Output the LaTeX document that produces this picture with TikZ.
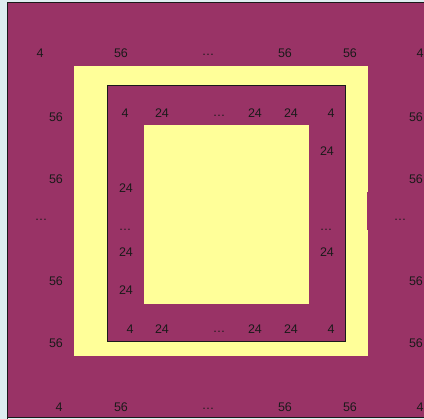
\documentclass[tikz,border=0pt]{standalone}
\usepackage{fontspec}
\setmainfont{Liberation Sans}
\definecolor{maroon}{HTML}{993366}
\definecolor{pale}{HTML}{FFFF99}
\definecolor{bg}{HTML}{DDEDF0}
\definecolor{ink}{HTML}{1A1A1A}
\begin{document}
\begin{tikzpicture}[x=1pt,y=-1pt,
  lbl/.style={inner sep=0pt,font=\fontsize{12.5}{14}\selectfont,text=ink},
  dots/.style={inner sep=0pt,font=\fontsize{12.5}{14}\selectfont,text=ink}]
\useasboundingbox (0,0) rectangle (424,419);
\fill[bg] (0,0) rectangle (424,419);
% outer maroon field
\fill[maroon] (8,3) rectangle (424,418);
\draw[ink,line width=1.2pt] (7.6,419) -- (7.6,2.6) -- (424,2.6);
\draw[ink,line width=1.2pt] (7.6,417.6) -- (424,417.6);
% outer yellow frame
\fill[pale] (74,66) rectangle (368,356);
\fill[maroon] (367,192) rectangle (368.5,230);
% inner bordered maroon block
\fill[maroon] (107,86) rectangle (345,342);
\draw[ink,line width=1pt] (107,86) rectangle (345,342);
% inner yellow
\fill[pale] (144,125) rectangle (309,304);
% outer top row
\node[lbl] (t1) at (40,53) {4};
\node[lbl] (t2) at (121,53) {56};
\node[dots] (t3) at (208,55) {\dots};
\node[lbl] (t4) at (285,53) {56};
\node[lbl] (t5) at (350,53) {56};
\node[lbl] (t6) at (420,53) {4};
% outer bottom row
\node[lbl] (b1) at (59,407) {4};
\node[lbl] (b2) at (121,407) {56};
\node[dots] (b3) at (208,409) {\dots};
\node[lbl] (b4) at (285,407) {56};
\node[lbl] (b5) at (350,407) {56};
\node[lbl] (b6) at (420,407) {4};
% outer left column
\node[lbl] (l1) at (56,117) {56};
\node[lbl] (l2) at (56,179) {56};
\node[dots] (l3) at (41,220) {\dots};
\node[lbl] (l4) at (56,281) {56};
\node[lbl] (l5) at (56,343) {56};
% outer right column
\node[lbl] (r1) at (416,117) {56};
\node[lbl] (r2) at (416,179) {56};
\node[dots] (r3) at (400,220) {\dots};
\node[lbl] (r4) at (416,281) {56};
\node[lbl] (r5) at (416,343) {56};
% inner top row
\node[lbl] (it1) at (125,113) {4};
\node[lbl] (it2) at (162,113) {24};
\node[dots] (it3) at (219,116) {\dots};
\node[lbl] (it4) at (255,113) {24};
\node[lbl] (it5) at (291,113) {24};
\node[lbl] (it6) at (331,113) {4};
% inner bottom row
\node[lbl] (ib1) at (130,329) {4};
\node[lbl] (ib2) at (162,329) {24};
\node[dots] (ib3) at (219,332) {\dots};
\node[lbl] (ib4) at (255,329) {24};
\node[lbl] (ib5) at (291,329) {24};
\node[lbl] (ib6) at (331,329) {4};
% inner left column
\node[lbl] (il1) at (126,188) {24};
\node[dots] (il2) at (125,230) {\dots};
\node[lbl] (il3) at (126,252) {24};
\node[lbl] (il4) at (126,290) {24};
% inner right column
\node[lbl] (ir1) at (327,151) {24};
\node[dots] (ir2) at (326,230) {\dots};
\node[lbl] (ir3) at (327,252) {24};
\end{tikzpicture}
\end{document}
